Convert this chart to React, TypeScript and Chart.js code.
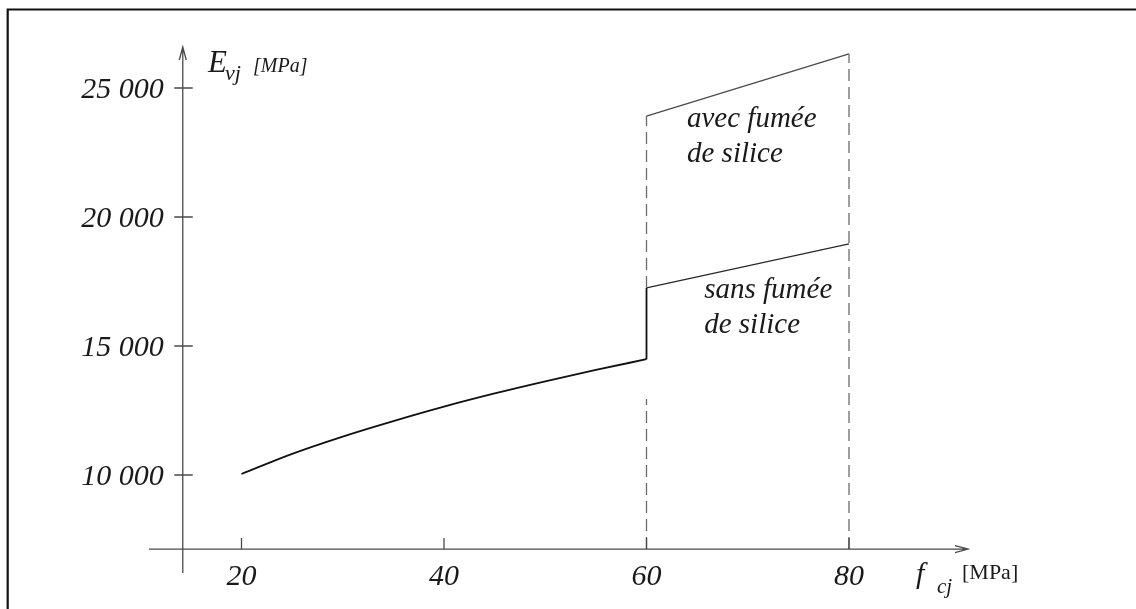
import React, { useEffect, useRef } from "react";
import { Chart, registerables } from "chart.js";

Chart.register(...registerables);

// ---- data ----
const fcjBase = [20, 25, 30, 35, 40, 45, 50, 55, 60];
const evjBase = [10040, 10820, 11490, 12090, 12650, 13160, 13630, 14070, 14490];
const fcjHigh = [60, 80];
const evjSans = [17250, 18960];
const evjAvec = [23910, 26320];
const xTicks = [20, 40, 60, 80];
const yTicks = [10000, 15000, 20000, 25000];
const yTickLabels = ["10 000", "15 000", "20 000", "25 000"];
const dashLow60 = [7130, 12950];
const dashHigh60 = [17250, 23910];
const dash80 = [7130, 26320];
const annotations = [
  { lines: ["avec fumée", "de silice"], x: 64.0, y: 23490 },
  { lines: ["sans fumée", "de silice"], x: 65.7, y: 16860 },
];

// axis geometry (values)
const X_MIN = 10, X_MAX = 100, Y_MIN = 6000, Y_MAX = 27000;
const AXIS_X_AT = 14.2;   // x value where the vertical axis stands
const AXIS_Y_AT = 7130;   // y value where the horizontal axis stands

const SERIF = '"Liberation Serif", "DejaVu Serif", serif';

const pts = (xs: number[], ys: number[]) => xs.map((x, i) => ({ x, y: ys[i] }));

const drawPlugin = {
  id: "drawing",
  afterDatasetsDraw(chart: any) {
    const { ctx } = chart;
    const xs = chart.scales.x;
    const ys = chart.scales.y;
    const px = (v: number) => xs.getPixelForValue(v);
    const py = (v: number) => ys.getPixelForValue(v);
    ctx.save();

    // frame (top and left edges only)
    ctx.strokeStyle = "#111";
    ctx.lineWidth = 2.2;
    ctx.beginPath();
    ctx.moveTo(7.7, 609);
    ctx.lineTo(7.7, 9.5);
    ctx.lineTo(1136, 9.5);
    ctx.stroke();

    // axes
    const ax = px(AXIS_X_AT);
    const ay = py(AXIS_Y_AT);
    ctx.strokeStyle = "#4a4a4a";
    ctx.lineWidth = 1.3;
    ctx.beginPath();
    ctx.moveTo(ax, 573);
    ctx.lineTo(ax, 47);
    ctx.moveTo(149, ay);
    ctx.lineTo(968, ay);
    // arrow heads
    ctx.moveTo(ax - 3.5, 60);
    ctx.lineTo(ax, 47);
    ctx.lineTo(ax + 3.5, 60);
    ctx.moveTo(955, ay - 3.5);
    ctx.lineTo(968, ay);
    ctx.lineTo(955, ay + 3.5);
    ctx.stroke();

    // y ticks
    ctx.beginPath();
    yTicks.forEach((v) => {
      const y = py(v);
      ctx.moveTo(ax - 8.5, y);
      ctx.lineTo(ax + 10, y);
    });
    // x ticks
    xTicks.forEach((v) => {
      const x = px(v);
      ctx.moveTo(x, ay - 11);
      ctx.lineTo(x, ay);
    });
    ctx.stroke();

    ctx.fillStyle = "#1a1a1a";
    // y tick labels
    ctx.font = `italic 30px ${SERIF}`;
    ctx.textAlign = "right";
    ctx.textBaseline = "alphabetic";
    yTicks.forEach((v, i) => {
      ctx.fillText(yTickLabels[i], ax - 19, py(v) + 10);
    });
    // x tick labels
    ctx.textAlign = "center";
    xTicks.forEach((v) => {
      ctx.fillText(String(v), px(v), ay + 36);
    });

    // y axis title
    ctx.textAlign = "left";
    ctx.font = `italic 31px ${SERIF}`;
    ctx.fillText("E", 208, 72);
    ctx.font = `italic 22px ${SERIF}`;
    ctx.fillText("vj", 225, 80);
    ctx.font = `italic 20px ${SERIF}`;
    ctx.fillText("[MPa]", 253, 72);

    // x axis title
    ctx.font = `italic 30px ${SERIF}`;
    ctx.fillText("f", 916, 583);
    ctx.font = `italic 21px ${SERIF}`;
    ctx.fillText("cj", 937, 593);
    ctx.font = `22px ${SERIF}`;
    ctx.fillText("[MPa]", 962, 579);

    // annotations
    ctx.font = `italic 29px ${SERIF}`;
    annotations.forEach((a) => {
      a.lines.forEach((t, i) => {
        ctx.fillText(t, px(a.x), py(a.y) + i * 35);
      });
    });

    ctx.restore();
  },
};

export default function App() {
  const ref = useRef<HTMLCanvasElement | null>(null);
  useEffect(() => {
    if (!ref.current) return;
    const dashStyle = {
      borderColor: "#6a6a6a",
      borderWidth: 1.3,
      borderDash: [12, 6],
      pointRadius: 0,
      fill: false,
    };
    const chart = new Chart(ref.current, {
      type: "line",
      data: {
        datasets: [
          { label: "dash60low", data: pts([60, 60], dashLow60), ...dashStyle },
          { label: "dash60high", data: pts([60, 60], dashHigh60), ...dashStyle },
          { label: "dash80", data: pts([80, 80], dash80), ...dashStyle },
          {
            label: "base",
            data: pts(fcjBase, evjBase),
            borderColor: "#111",
            borderWidth: 1.8,
            pointRadius: 0,
            cubicInterpolationMode: "monotone",
            fill: false,
          },
          {
            label: "jump",
            data: pts([60, 60], [evjBase[evjBase.length - 1], evjSans[0]]),
            borderColor: "#111",
            borderWidth: 1.8,
            pointRadius: 0,
            fill: false,
          },
          {
            label: "sans fumée de silice",
            data: pts(fcjHigh, evjSans),
            borderColor: "#2a2a2a",
            borderWidth: 1.3,
            pointRadius: 0,
            fill: false,
          },
          {
            label: "avec fumée de silice",
            data: pts(fcjHigh, evjAvec),
            borderColor: "#4a4a4a",
            borderWidth: 1.3,
            pointRadius: 0,
            fill: false,
          },
        ],
      },
      options: {
        animation: false,
        responsive: false,
        events: [],
        layout: { padding: { left: 140.25, right: 84.5, top: 36.4, bottom: 30.8 } },
        plugins: { legend: { display: false }, tooltip: { enabled: false } },
        scales: {
          x: { type: "linear", min: X_MIN, max: X_MAX, display: false },
          y: { type: "linear", min: Y_MIN, max: Y_MAX, display: false },
        },
      },
      plugins: [drawPlugin],
    });
    return () => chart.destroy();
  }, []);
  return (
    <div style={{ position: "absolute", left: 0, top: 0, width: 1136, height: 609, background: "#fff" }}>
      <canvas ref={ref} width={1136} height={609} style={{ display: "block" }} />
    </div>
  );
}
